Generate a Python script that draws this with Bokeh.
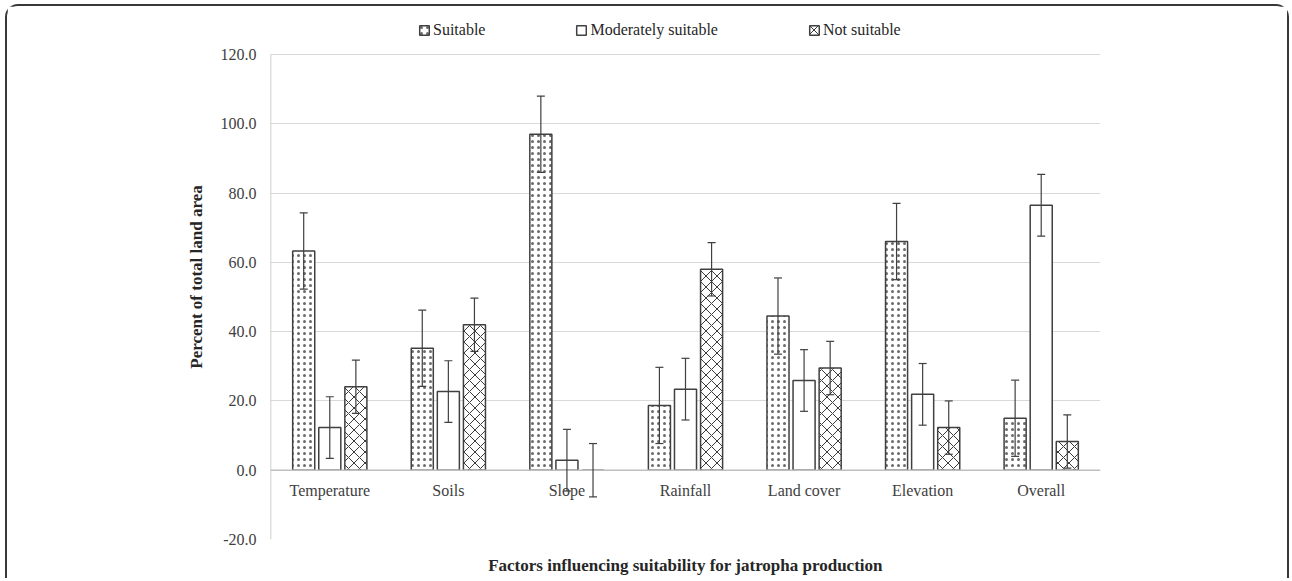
from bokeh.plotting import figure
from bokeh.models import (ColumnDataSource, FactorRange, Whisker, Legend, LegendItem,
                          NumeralTickFormatter, Span, FixedTicker, TeeHead)
from bokeh.transform import dodge
from bokeh.core.properties import value
from bokeh.embed import file_html
from bokeh.resources import INLINE

categories = ["Temperature", "Soils", "Slope", "Rainfall", "Land cover", "Elevation", "Overall"]
series_names = ["Suitable", "Moderately suitable", "Not suitable"]
suitable = [63.3, 35.2, 97.0, 18.7, 44.5, 66.0, 15.0]
moderately = [12.3, 22.7, 2.9, 23.4, 25.9, 21.9, 76.5]
not_suitable = [24.1, 42.0, 0.0, 58.0, 29.5, 12.3, 8.3]
err_suitable = [11.0, 11.0, 11.0, 11.0, 11.0, 11.0, 11.0]
err_moderately = [8.9, 8.9, 8.9, 8.9, 8.9, 8.9, 8.9]
err_not_suitable = [7.7, 7.7, 7.7, 7.7, 7.7, 7.7, 7.7]
yticks = [-20, 0, 20, 40, 60, 80, 100, 120]

FONT = "Liberation Serif"
EDGE = "#404040"

src = ColumnDataSource(dict(
    x=categories,
    s=suitable, m=moderately, n=not_suitable,
    s_lo=[v - e for v, e in zip(suitable, err_suitable)],
    s_hi=[v + e for v, e in zip(suitable, err_suitable)],
    m_lo=[v - e for v, e in zip(moderately, err_moderately)],
    m_hi=[v + e for v, e in zip(moderately, err_moderately)],
    n_lo=[v - e for v, e in zip(not_suitable, err_not_suitable)],
    n_hi=[v + e for v, e in zip(not_suitable, err_not_suitable)],
    ylab=[0] * len(categories),
))

# frame extends above 120 to leave room for the legend inside it
y_top = 120 + 40 / ((539 - 54) / 140)

p = figure(width=1284, height=574, x_range=FactorRange(*categories, range_padding=0),
           y_range=(yticks[0], y_top), output_backend="svg", toolbar_location=None,
           min_border_left=263, min_border_right=191, min_border_top=8, min_border_bottom=41)
p.margin = (4, 0, 0, 5)
p.styles = {"border": "2px solid #383838", "border-bottom": "none",
            "border-radius": "13px 13px 0 0"}
p.outline_line_color = None
p.background_fill_color = "white"
p.border_fill_color = "white"

off = 0.22
w = 0.186
r_s = p.vbar(x=dodge("x", -off, range=p.x_range), top="s", bottom=0, width=w, source=src,
             fill_color="white", line_color=EDGE, line_width=1.5,
             hatch_pattern=".", hatch_scale=6, hatch_color="#6a6a6a", hatch_weight=1)
r_m = p.vbar(x=dodge("x", 0, range=p.x_range), top="m", bottom=0, width=w, source=src,
             fill_color="white", line_color=EDGE, line_width=1.5)
r_n = p.vbar(x=dodge("x", off, range=p.x_range), top="n", bottom=0, width=w, source=src,
             fill_color="white", line_color=EDGE, line_width=1.5,
             hatch_pattern="x", hatch_scale=11, hatch_color="#3a3a3a", hatch_weight=1)

for dx, lo, hi in [(-off, "s_lo", "s_hi"), (0, "m_lo", "m_hi"), (off, "n_lo", "n_hi")]:
    wk = Whisker(base=dodge("x", dx, range=p.x_range), lower=lo, upper=hi, source=src,
                 dimension="height", line_color=EDGE, line_width=1.2, level="overlay",
                 upper_head=TeeHead(size=8, line_color=EDGE, line_width=1.2),
                 lower_head=TeeHead(size=8, line_color=EDGE, line_width=1.2))
    p.add_layout(wk)

p.add_layout(Span(location=0, dimension="width", line_color="#bfbfbf", line_width=1.5))

# left axis line from -20 to 120 only
axsrc = ColumnDataSource(dict(x=[categories[0]], y0=[yticks[0]], y1=[yticks[-1]]))
p.segment(x0=dodge("x", -0.5, range=p.x_range), x1=dodge("x", -0.5, range=p.x_range),
          y0="y0", y1="y1", source=axsrc, line_color="#bfbfbf", line_width=1.5)

p.text(x="x", y="ylab", text="x", source=src, text_align="center", text_baseline="top",
       y_offset=12, text_font=value(FONT), text_font_size="16px", text_color="#404040")

p.xgrid.visible = False
p.ygrid.grid_line_color = "#d9d9d9"
p.ygrid.grid_line_width = 1

xax = p.xaxis[0]
xax.ticker = FixedTicker(ticks=[])
xax.axis_line_color = None
xax.major_tick_line_color = None
xax.minor_tick_line_color = None
xax.major_tick_out = 0
xax.major_label_standoff = 0
xax.axis_label = "Factors influencing suitability for jatropha production"
xax.axis_label_text_font = FONT
xax.axis_label_text_font_style = "bold"
xax.axis_label_text_font_size = "17px"
xax.axis_label_text_color = "#262626"
xax.axis_label_standoff = 16

yax = p.yaxis[0]
yax.ticker = FixedTicker(ticks=yticks)
yax.formatter = NumeralTickFormatter(format="0.0")
yax.major_tick_line_color = None
yax.minor_tick_line_color = None
yax.axis_line_color = None
yax.major_label_text_font = FONT
yax.major_label_text_font_size = "16px"
yax.major_label_text_color = "#404040"
yax.major_label_standoff = 8
yax.axis_label = "Percent of total land area"
yax.axis_label_text_font = FONT
yax.axis_label_text_font_style = "bold"
yax.axis_label_text_font_size = "17px"
yax.axis_label_text_color = "#262626"
yax.axis_label_standoff = 12

legend = Legend(items=[LegendItem(label=series_names[0], renderers=[r_s]),
                       LegendItem(label=series_names[1], renderers=[r_m]),
                       LegendItem(label=series_names[2], renderers=[r_n])],
                orientation="horizontal", spacing=90, glyph_width=12, glyph_height=12,
                label_standoff=3, label_height=12, padding=0, margin=0,
                label_text_font=FONT, label_text_font_size="16px", label_text_color="#262626",
                border_line_color=None, background_fill_alpha=0, location=(148, 500))
p.add_layout(legend)

open("out.html", "w").write(file_html(p, INLINE))
